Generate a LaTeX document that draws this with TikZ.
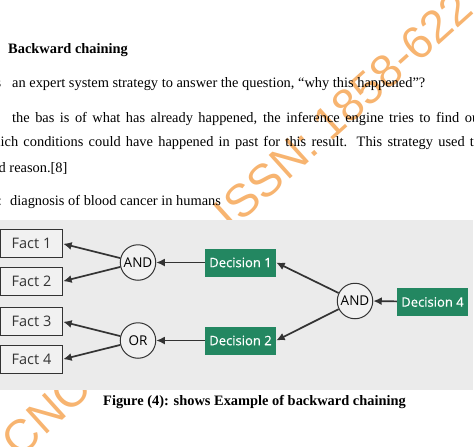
\documentclass[tikz,border=0pt]{standalone}
\usepackage{fontspec}
\setmainfont{Liberation Serif}
\newfontfamily\diafont{Open Sans}
\newfontfamily\decfont[FakeBold=0.6]{Open Sans}
\newfontfamily\wmfont{Liberation Sans}
\usepackage{tikz}
\usetikzlibrary{trees}
\usetikzlibrary{arrows.meta}

\definecolor{panelgray}{RGB}{235,235,235}
\definecolor{factfill}{RGB}{241,241,241}
\definecolor{boxgreen}{RGB}{35,135,97}
\definecolor{inkgray}{RGB}{51,51,51}
\definecolor{stamporange}{RGB}{247,180,112}

\begin{document}
\begin{tikzpicture}[%
  x=1pt, y=-1pt,
  textline/.style={anchor=base west, inner sep=0pt, font=\fontsize{14.4}{17}\selectfont},
  stamp/.style={inner sep=0pt, rotate=42, text=stamporange, font=\wmfont\fontsize{46}{46}\selectfont},
  decision/.style={fill=boxgreen, text=white, minimum width=71pt, minimum height=28pt,
    inner sep=0pt, font=\decfont\fontsize{13}{13}\selectfont},
  gate/.style={circle, draw=inkgray, line width=1pt, fill=factfill, minimum size=35.5pt,
    inner sep=0pt, font=\diafont\fontsize{13.5}{13.5}\selectfont},
  fact/.style={draw=inkgray, line width=1.3pt, fill=factfill, minimum width=62pt,
    minimum height=28pt, inner sep=0pt, text=inkgray, font=\diafont\fontsize{14.5}{14.5}\selectfont},
  level 1/.style={grow via three points={one child at (-77.5,-1) and
    two children at (-77.5,-1) and (-77.5,0)}},
  level 2/.style={grow via three points={one child at (-114.5,0) and
    two children at (-114.5,-38.5) and (-114.5,39.5)}},
  level 3/.style={grow via three points={one child at (-102.5,0) and
    two children at (-102.5,0) and (-102.5,0)}},
  level 4/.style={grow via three points={one child at (-106.5,0) and
    two children at (-106.5,-18.7) and (-106.5,18.7)}},
  edge from parent/.style={draw=inkgray, line width=1.7pt, -{Latex[length=8.5pt,width=8pt]}},
  edge from parent path={(\tikzparentnode) -- (\tikzchildnode.east)}]

  \useasboundingbox (0,0) rectangle (474,447);
  \clip (0,0) rectangle (474,447);

  % watermark behind everything
  \node[stamp] (issn) at (343,110) {ISSN: 1858-622};
  \node[stamp] (cnc) at (46,414) {CNC};

  % grey panel of the figure
  \fill[panelgray] (0,220) rectangle (473,390);

  % running text
  \node[textline] (head) at (8,53) {\bfseries Backward chaining};
  \node[textline] (line1) at (-21,87.5) {It is\hspace{11pt}an expert system strategy to answer the question, “why this happened”?};
  \node[textline] (line2) at (12,122.5) {\makebox[471pt][s]{the bas is of what has already happened, the inference engine tries to find out}};
  \node[textline] (line3) at (-17.1,146.7) {\makebox[498pt][s]{which conditions could have happened in past for this result. This strategy used to}};
  \node[textline] (line4) at (-15.1,172.3) {and reason.[8]};
  \node[textline] (line5) at (-53.4,205) {Example:\hspace{8.2pt}diagnosis of blood cancer in humans};

  % the chaining tree
  \node[decision] (dec4) at (432.5,302) {Decision 4}
    child {node[gate] (and2) {AND}
      child {node[decision] (dec1) {Decision 1}
        child {node[gate] (and1) {AND}
          child {node[fact] (fact1) {Fact 1}}
          child {node[fact] (fact2) {Fact 2}}
        }
      }
      child {node[decision] (dec2) {Decision 2}
        child {node[gate] (or1) {OR}
          child {node[fact] (fact3) {Fact 3}}
          child {node[fact] (fact4) {Fact 4}}
        }
      }
    };

  \node[anchor=base, inner sep=0pt, font=\fontsize{14.4}{17}\selectfont\bfseries] (caption)
    at (254.5,405) {Figure (4): shows Example of backward chaining};
\end{tikzpicture}
\end{document}
